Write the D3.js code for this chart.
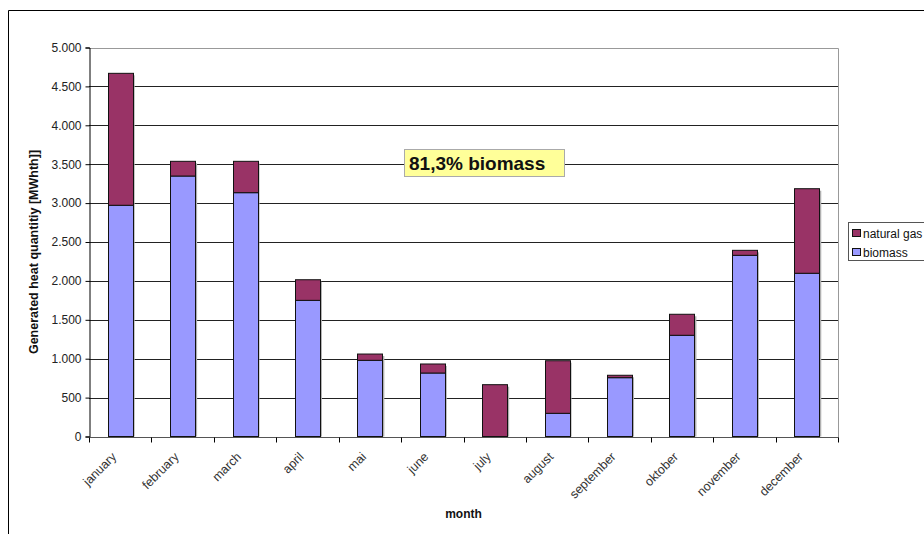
<!DOCTYPE html>
<html>
<head>
<meta charset="utf-8">
<title>Generated heat</title>
<script src="https://d3js.org/d3.v7.min.js"></script>
<style>
  body { margin: 0; background: #fff; }
  text { font-family: "Liberation Sans", Arial, sans-serif; }
</style>
</head>
<body>
<div id="chart"></div>
<script>
// values (MWhth)
var months = ["january", "february", "march", "april", "mai", "june", "july",
              "august", "september", "oktober", "november", "december"];
var biomass = [2972, 3348, 3134, 1750, 979, 816, 0, 298, 756, 1301, 2329, 2098];
var naturalGas = [1696, 189, 403, 265, 81, 116, 666, 676, 31, 270, 64, 1087];
var yTicks = [0, 500, 1000, 1500, 2000, 2500, 3000, 3500, 4000, 4500, 5000];
var seriesNames = ["natural gas", "biomass"];
var seriesColors = {"natural gas": "#993366", "biomass": "#9999ff"};

var width = 924, height = 534;
var margin = {top: 47.5, right: 86, bottom: 97.5, left: 89};

var svg = d3.select("#chart").append("svg")
    .attr("width", width)
    .attr("height", height);

// outer frame
svg.append("path")
    .attr("d", "M8.5," + height + "V10.5H" + width)
    .attr("fill", "none")
    .attr("stroke", "#000")
    .attr("stroke-width", 1);

var x = d3.scaleBand()
    .domain(months)
    .range([margin.left, width - margin.right])
    .paddingInner(0.6)
    .paddingOuter(0.3);

var y = d3.scaleLinear()
    .domain([0, 5000])
    .range([height - margin.bottom, margin.top]);

var step = x.step();

// gridlines
svg.append("g")
    .selectAll("line")
    .data(yTicks.filter(function(d) { return d > 0 && d < 5000; }))
    .enter().append("line")
    .attr("x1", margin.left)
    .attr("x2", width - margin.right)
    .attr("y1", function(d) { return Math.round(y(d)) + 0.5; })
    .attr("y2", function(d) { return Math.round(y(d)) + 0.5; })
    .attr("stroke", "#222");

// top and right plot border
svg.append("path")
    .attr("d", "M" + margin.left + "," + (Math.round(y(5000)) + 0.5) +
               "H" + (width - margin.right + 0.5) +
               "V" + (Math.round(y(0)) + 0.5))
    .attr("fill", "none")
    .attr("stroke", "#999");

// stacked data
var rows = months.map(function(m, i) {
    return {month: m, "biomass": biomass[i], "natural gas": naturalGas[i]};
});
var stack = d3.stack().keys(["biomass", "natural gas"]);
var layers = stack(rows);

// shadows
svg.append("g")
    .selectAll("rect")
    .data(rows)
    .enter().append("rect")
    .attr("x", function(d) { return x(d.month) + 2; })
    .attr("y", function(d) { return y(d.biomass + d["natural gas"]) + 2; })
    .attr("width", x.bandwidth())
    .attr("height", function(d) { return y(0) - y(d.biomass + d["natural gas"]) - 2; })
    .attr("fill", "#b0b0b0");

svg.append("g")
    .selectAll("g")
    .data(layers)
    .enter().append("g")
    .attr("fill", function(d) { return seriesColors[d.key]; })
    .selectAll("rect")
    .data(function(d) { return d.filter(function(s) { return s[1] > s[0]; }); })
    .enter().append("rect")
    .attr("x", function(d) { return Math.round(x(d.data.month)) + 0.5; })
    .attr("y", function(d) { return y(d[1]); })
    .attr("width", Math.round(x.bandwidth()))
    .attr("height", function(d) { return y(d[0]) - y(d[1]); })
    .attr("stroke", "#111")
    .attr("stroke-width", 1);

// y axis
var yAxis = svg.append("g")
    .attr("transform", "translate(" + (margin.left + 0.5) + ",0)")
    .call(d3.axisLeft(y).tickValues(yTicks).tickSize(4)
        .tickFormat(function(d) { return d3.format(",")(d).replace(/,/g, "."); }));
yAxis.select(".domain").attr("stroke", "#000");
yAxis.selectAll(".tick line").attr("stroke", "#000");
yAxis.selectAll("text")
    .attr("font-size", "12px")
    .attr("fill", "#222")
    .attr("x", -8)
    .style("font-family", "Liberation Sans, Arial, sans-serif");

// x axis
var xAxisY = Math.round(y(0)) + 0.5;
svg.append("line")
    .attr("x1", margin.left)
    .attr("x2", width - margin.right + 0.5)
    .attr("y1", xAxisY)
    .attr("y2", xAxisY)
    .attr("stroke", "#555");

var boundaries = months.map(function(m) { return x(m) + x.bandwidth() / 2 - step / 2; });
boundaries.push(width - margin.right);
svg.append("g")
    .selectAll("line")
    .data(boundaries)
    .enter().append("line")
    .attr("x1", function(d) { return Math.round(d) + 0.5; })
    .attr("x2", function(d) { return Math.round(d) + 0.5; })
    .attr("y1", xAxisY)
    .attr("y2", xAxisY + 5)
    .attr("stroke", "#000");

svg.append("g")
    .selectAll("text")
    .data(months)
    .enter().append("text")
    .attr("transform", function(d) {
        return "translate(" + (x(d) + x.bandwidth() / 2 - 3) + "," + (xAxisY + 20) + ") rotate(-45)";
    })
    .attr("text-anchor", "end")
    .attr("font-size", "12.5px")
    .attr("fill", "#333")
    .text(function(d) { return d; });

// axis titles
svg.append("text")
    .attr("x", (margin.left + width - margin.right) / 2)
    .attr("y", 518)
    .attr("text-anchor", "middle")
    .attr("font-size", "12px")
    .attr("font-weight", "bold")
    .attr("fill", "#111")
    .text("month");

svg.append("text")
    .attr("transform", "translate(38,252) rotate(-90)")
    .attr("text-anchor", "middle")
    .attr("font-size", "12.5px")
    .attr("font-weight", "bold")
    .attr("fill", "#111")
    .text("Generated heat quantitiy [MWhth]]");

// annotation
var note = svg.append("g").attr("transform", "translate(404,149)");
note.append("rect")
    .attr("x", 0.5).attr("y", 0.5)
    .attr("width", 160).attr("height", 27)
    .attr("fill", "#ffff99")
    .attr("stroke", "#aaa");
note.append("text")
    .attr("x", 5)
    .attr("y", 20.5)
    .attr("font-size", "19px")
    .attr("font-weight", "bold")
    .attr("fill", "#111")
    .text("81,3% biomass");

// legend
var legend = svg.append("g").attr("transform", "translate(848,222)");
legend.append("rect")
    .attr("x", 0.5).attr("y", 0.5)
    .attr("width", 90).attr("height", 38)
    .attr("fill", "#fff")
    .attr("stroke", "#555");
var items = legend.selectAll("g.item")
    .data(seriesNames)
    .enter().append("g")
    .attr("class", "item")
    .attr("transform", function(d, i) { return "translate(4," + (7 + i * 19) + ")"; });
items.append("rect")
    .attr("x", 0.5).attr("y", 0.5)
    .attr("width", 8).attr("height", 7)
    .attr("fill", function(d) { return seriesColors[d]; })
    .attr("stroke", "#111");
items.append("text")
    .attr("x", 11)
    .attr("y", 9)
    .attr("font-size", "12px")
    .attr("fill", "#111")
    .text(function(d) { return d; });
</script>
</body>
</html>
